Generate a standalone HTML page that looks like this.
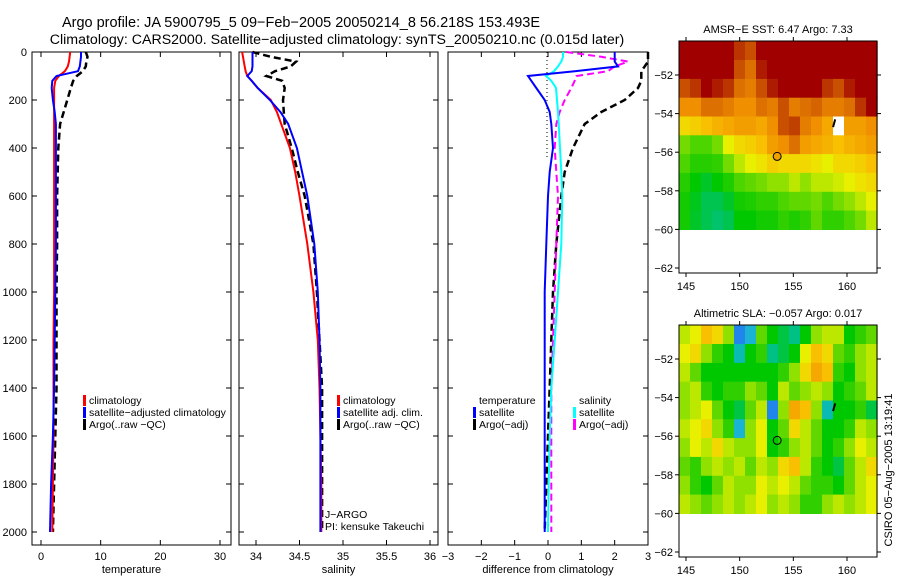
<!DOCTYPE html>
<html><head><meta charset="utf-8"><style>
body{margin:0;background:#fff;}
svg{display:block;font-family:"Liberation Sans",sans-serif;}
</style></head><body>
<svg id="chart" width="900" height="580" viewBox="0 0 900 580" xmlns="http://www.w3.org/2000/svg">
<text x="301" y="27" font-size="14.5" text-anchor="middle">Argo profile: JA 5900795_5 09−Feb−2005 20050214_8 56.218S 153.493E</text>
<text x="337" y="44" font-size="14.2" text-anchor="middle">Climatology: CARS2000. Satellite−adjusted climatology: synTS_20050210.nc (0.015d later)</text>
<g id="plots"></g>
</svg>
<script>
const depths=[0,20,40,60,80,100,120,150,200,250,300,400,500,600,800,1000,1200,1400,1600,1800,2000];
const tempClim=[4.9,4.8,4.7,4.5,4.0,3.0,2.4,2.2,2.2,2.2,2.2,2.2,2.2,2.2,2.2,2.2,2.1,2.1,2.1,2.0,1.9];
const tempSat=[6.7,6.7,6.6,6.5,6.2,2.6,1.9,1.8,2.0,2.3,2.5,2.5,2.5,2.5,2.5,2.4,2.3,2.2,2.0,1.7,1.5];
const tempArgo=[7.5,7.8,7.6,7.5,7.0,6.0,5.4,5.0,4.4,3.8,3.2,2.9,2.8,2.7,2.7,2.6,2.6,2.6,2.4,2.2,2.0];
const salClim=[33.84,33.85,33.86,33.87,33.88,33.9,33.95,34.02,34.17,34.24,34.29,34.39,34.45,34.5,34.59,34.66,34.71,34.73,34.74,34.75,34.75];
const salSat=[33.96,33.96,33.96,33.96,33.95,33.9,33.95,34.02,34.16,34.28,34.37,34.47,34.53,34.59,34.67,34.71,34.73,34.74,34.74,34.74,34.74];
const salArgo=[33.96,34.17,34.46,34.40,34.22,34.12,34.30,34.33,34.31,34.32,34.33,34.41,34.48,34.56,34.66,34.70,34.73,34.76,34.76,34.76,34.76];
const dTempSat=[2.0,2.0,2.0,2.1,0.8,-0.6,-0.5,-0.35,-0.1,0.05,0.1,0.15,0.05,0.0,-0.05,-0.1,-0.1,-0.1,-0.1,-0.1,-0.1];
const dTempArgo=[3.0,3.0,3.0,2.9,2.8,2.8,2.8,2.7,2.3,1.6,1.1,0.75,0.5,0.4,0.25,0.15,0.1,0.05,0.0,-0.05,-0.1];
const dSalSat=[0.45,0.45,0.4,0.3,0.18,-0.06,0.1,0.24,0.27,0.3,0.32,0.36,0.4,0.43,0.4,0.3,0.2,0.1,0.05,0.02,0.0];
const dSalArgo=[0.55,1.6,2.4,2.0,1.8,0.85,0.8,0.7,0.5,0.35,0.25,0.2,0.25,0.3,0.25,0.2,0.15,0.1,0.1,0.1,0.1];
const depthTicks=[0,200,400,600,800,1000,1200,1400,1600,1800,2000];
const tempTicks=[0,10,20,30];
const salTicks=[34,34.5,35,35.5,36];
const diffTicks=[-3,-2,-1,0,1,2,3];
const latTicks=[-52,-54,-56,-58,-60,-62];
const lonTicks=[145,150,155,160];
const sstGrid=[
[1,1,1,1,1,0.9,0.85,1,1,1,1,1,1,1,1,1,1,1],
[1,1,1,1,1,0.85,0.8,0.95,1,1,1,1,1,1,1,1,1,1],
[0.85,0.9,1,0.95,0.9,0.8,0.78,0.85,0.95,1,1,1,1,0.9,0.85,0.95,1,1],
[0.75,0.75,0.8,0.8,0.78,0.75,0.75,0.8,0.78,0.85,0.78,0.8,0.82,0.78,0.78,0.8,0.9,1],
[0.6,0.62,0.65,0.68,0.7,0.72,0.72,0.7,0.75,0.85,0.88,0.78,0.75,0.7,-1,0.72,0.72,0.75],
[0.42,0.38,0.38,0.42,0.55,0.6,0.62,0.65,0.72,0.75,0.8,0.72,0.7,0.68,0.65,0.68,0.7,0.72],
[0.38,0.34,0.34,0.35,0.42,0.5,0.55,0.58,0.62,0.6,0.6,0.6,0.58,0.55,0.6,0.6,0.62,0.65],
[0.34,0.3,0.27,0.3,0.33,0.38,0.4,0.42,0.45,0.45,0.5,0.45,0.5,0.5,0.52,0.55,0.58,0.6],
[0.32,0.28,0.24,0.24,0.27,0.32,0.33,0.35,0.35,0.38,0.4,0.4,0.42,0.38,0.42,0.45,0.5,0.55],
[0.32,0.27,0.24,0.22,0.24,0.3,0.3,0.32,0.32,0.35,0.33,0.35,0.4,0.35,0.35,0.38,0.42,0.5]];
const slaGrid=[
[0.5,0.55,0.65,0.6,0.45,0.05,0.1,0.4,0.3,0.25,0.2,0.3,0.45,0.5,0.5,0.3,0.35,0.4],
[0.55,0.6,0.45,0.35,0.3,0.15,0.3,0.35,0.2,0.25,0.3,0.55,0.65,0.6,0.4,0.35,0.45,0.5],
[0.5,0.4,0.3,0.3,0.3,0.3,0.3,0.3,0.3,0.35,0.45,0.6,0.7,0.65,0.35,0.3,0.45,0.5],
[0.45,0.5,0.35,0.3,0.35,0.35,0.45,0.4,0.3,0.5,0.4,0.45,0.5,0.45,0.3,0.35,0.4,0.5],
[0.45,0.5,0.55,0.4,0.3,0.25,0.4,0.5,0.05,0.45,0.7,0.65,0.45,0.15,0.3,0.3,0.35,0.25],
[0.5,0.55,0.6,0.45,0.35,0.1,0.45,0.55,0.3,0.4,0.6,0.5,0.4,0.3,0.3,0.35,0.5,0.45],
[0.45,0.55,0.5,0.6,0.5,0.45,0.45,0.55,0.3,0.35,0.45,0.5,0.4,0.3,0.35,0.45,0.55,0.5],
[0.4,0.35,0.45,0.5,0.45,0.5,0.4,0.5,0.45,0.6,0.65,0.5,0.35,0.3,0.25,0.4,0.5,0.6],
[0.45,0.35,0.3,0.4,0.5,0.45,0.45,0.55,0.5,0.55,0.5,0.4,0.35,0.35,0.3,0.4,0.5,0.55],
[0.5,0.45,0.4,0.45,0.5,0.45,0.5,0.55,0.45,0.5,0.45,0.35,0.35,0.45,0.5,0.45,0.5,0.55]];
const argoLon=153.493, argoLat=-56.218;

const NS='http://www.w3.org/2000/svg';
const root=document.getElementById('plots');
function mk(tag,attrs,parent){const e=document.createElementNS(NS,tag);for(const k in attrs)e.setAttribute(k,attrs[k]);(parent||root).appendChild(e);return e;}
const yD=d=>52+d*0.24;
function lin(d0,d1,p0,p1){return v=>p0+(v-d0)*(p1-p0)/(d1-d0);}
const panels=[
 {name:'temperature-panel',x0:32,x1:231,sx:lin(0,30,41,220),ticks:tempTicks,label:'temperature'},
 {name:'salinity-panel',x0:239,x1:438,sx:lin(34,36,256,430),ticks:salTicks,label:'salinity'},
 {name:'difference-panel',x0:448,x1:648,sx:lin(-3,3,448,648),ticks:diffTicks,label:'difference from climatology'}];
const pTop=52,pBot=545;
panels.forEach((p,i)=>{
 const g=mk('g',{});
 
 
 const r=mk('rect',{x:p.x0,y:pTop,width:p.x1-p.x0,height:pBot-pTop,fill:'none',stroke:'#000','stroke-width':1},g);
 
 
 p.ticks.forEach(t=>{const x=p.sx(t);
  mk('line',{x1:x,x2:x,y1:pBot,y2:pBot-5,stroke:'#000'},g);
  mk('line',{x1:x,x2:x,y1:pTop,y2:pTop+5,stroke:'#000'},g);
  const tx=mk('text',{x:x,y:pBot+15,'font-size':11,'text-anchor':'middle'},g);
  
  
  tx.textContent=String(t).replace('-','−');});
 depthTicks.forEach(d=>{const y=yD(d);
  mk('line',{x1:p.x0,x2:p.x0+5,y1:y,y2:y,stroke:'#000'},g);
  mk('line',{x1:p.x1,x2:p.x1-5,y1:y,y2:y,stroke:'#000'},g);
  if(i===0){const tx=mk('text',{x:27,y:y+4,'font-size':11,'text-anchor':'end'},g);
   
   
   tx.textContent=d;}});
 const xl=mk('text',{x:(p.x0+p.x1)/2,y:573,'font-size':11,'text-anchor':'middle'},g);
 
 
 xl.textContent=p.label;
 p.g=g;
});
function line(p,vals,color,dash,name,w){
 const pts=vals.map((v,k)=>Math.max(p.x0,Math.min(p.x1,p.sx(v))).toFixed(1)+','+yD(depths[k]).toFixed(1)).join(' ');
 const e=mk('polyline',{points:pts,fill:'none',stroke:color,'stroke-width':w||2,'stroke-dasharray':dash||'none'},p.g);
 
 
}
const zl=mk('line',{x1:547,x2:547,y1:pTop,y2:yD(450),stroke:'#000','stroke-dasharray':'1,3'},panels[2].g);


line(panels[0],tempArgo,'#000','7,4','temp-argo-line',2.5);
line(panels[0],tempClim,'#f00',null,'temp-climatology-line');
line(panels[0],tempSat,'#00f',null,'temp-satellite-line');
line(panels[1],salArgo,'#000','7,4','sal-argo-line',2.5);
line(panels[1],salClim,'#f00',null,'sal-climatology-line');
line(panels[1],salSat,'#00f',null,'sal-satellite-line');
line(panels[2],dTempArgo,'#000','7,4','diff-temp-argo-line',2.5);
line(panels[2],dSalArgo,'#f0f','7,4','diff-sal-argo-line',2);
line(panels[2],dSalSat,'#0ff',null,'diff-sal-satellite-line');
line(panels[2],dTempSat,'#00f',null,'diff-temp-satellite-line');
function legend(g,x,y,items,name){
 const lg=mk('g',{},g);
 
 
 items.forEach((it,k)=>{const yy=y+k*12;
  if(it[0])mk('rect',{x:x,y:yy-9,width:3,height:11,fill:it[0]},lg);
  const t=mk('text',{x:x+6,y:yy,'font-size':10.5},lg);
  
  
  t.textContent=it[1];});
}
legend(panels[0].g,83,404,[['#f00','climatology'],['#00f','satellite−adjusted climatology'],['#000','Argo(..raw −QC)']],'temp-legend');
legend(panels[1].g,337,404,[['#f00','climatology'],['#00f','satellite adj. clim.'],['#000','Argo(..raw −QC)']],'sal-legend');
legend(panels[2].g,473,404,[[null,'temperature'],['#00f','satellite'],['#000','Argo(−adj)']],'diff-temp-legend');
legend(panels[2].g,573,404,[[null,'salinity'],['#0ff','satellite'],['#f0f','Argo(−adj)']],'diff-sal-legend');
[['J−ARGO',518],['PI: kensuke Takeuchi',530]].forEach(a=>{const t=mk('text',{x:325,y:a[1],'font-size':10.5},panels[1].g);
 
 
 t.textContent=a[0];});

const stops=[[0,[32,64,255]],[0.08,[32,176,224]],[0.18,[0,192,160]],[0.3,[0,200,0]],[0.45,[144,224,0]],[0.55,[232,240,0]],[0.65,[248,192,0]],[0.75,[240,144,0]],[0.85,[200,80,0]],[1,[160,0,0]]];
function cmap(v){if(v<0)return '#fff';for(let i=1;i<stops.length;i++){if(v<=stops[i][0]){const a=stops[i-1],b=stops[i],t=(v-a[0])/(b[0]-a[0]);return 'rgb('+a[1].map((c,j)=>Math.round(c+(b[1][j]-c)*t)).join(',')+')';}}return 'rgb(160,0,0)';}
function drawMap(y0,grid,title,name,fillMarker){
 const g=mk('g',{});
 
 
 const x0=679,x1=877,y1=y0+232;
 const sx=lin(145,160,686,847),sy=lin(-52,-62,y0+34,y0+227);
 const lon0=144.35,lat0=-50.25,cols=grid[0].length,rows=grid.length;
 const dl=(162.8-lon0)/cols, dr=(-60-lat0)/rows;
 grid.forEach((row,r)=>row.forEach((v,c)=>{
  const xa=sx(lon0+c*dl),xb=sx(lon0+(c+1)*dl),ya=sy(lat0+r*dr),yb=sy(lat0+(r+1)*dr);
  const cell=mk('rect',{x:xa.toFixed(1),y:ya.toFixed(1),width:(xb-xa+0.6).toFixed(1),height:(yb-ya+0.6).toFixed(1),fill:cmap(v)},g);
  
  
 }));
 const fr=mk('rect',{x:x0,y:y0,width:x1-x0,height:y1-y0,fill:'none',stroke:'#000'},g);
 
 
 latTicks.forEach(l=>{const y=sy(l);
  mk('line',{x1:x0,x2:x0-4,y1:y,y2:y,stroke:'#000'},g);
  mk('line',{x1:x1,x2:x1+4,y1:y,y2:y,stroke:'#000'},g);
  const t=mk('text',{x:x0-6,y:y+4,'font-size':11,'text-anchor':'end'},g);
  
  
  t.textContent='−'+(-l);});
 lonTicks.forEach(l=>{const x=sx(l);
  mk('line',{x1:x,x2:x,y1:y1,y2:y1+4,stroke:'#000'},g);
  mk('line',{x1:x,x2:x,y1:y0,y2:y0-4,stroke:'#000'},g);
  const t=mk('text',{x:x,y:y1+17,'font-size':11,'text-anchor':'middle'},g);
  
  
  t.textContent=l;});
 const tt=mk('text',{x:778,y:y0-8,'font-size':11,'text-anchor':'middle'},g);
 
 
 tt.textContent=title;
 const c=mk('circle',{cx:sx(argoLon),cy:sy(argoLat),r:4,fill:fillMarker,stroke:'#000'},g);
 
 
 const s=mk('line',{x1:sx(158.9),y1:sy(-54.3),x2:sx(158.7),y2:sy(-54.7),stroke:'#000','stroke-width':2},g);
 
 
}
drawMap(41,sstGrid,'AMSR−E SST: 6.47 Argo: 7.33','sst-map','#f0a000');
drawMap(325,slaGrid,'Altimetric SLA: −0.057 Argo: 0.017','sla-map','none');
const st=mk('text',{x:892,y:470,'font-size':11,'text-anchor':'middle',transform:'rotate(-90 892 470)'});


st.textContent='CSIRO 05−Aug−2005 13:19:41';
</script>
</body></html>
